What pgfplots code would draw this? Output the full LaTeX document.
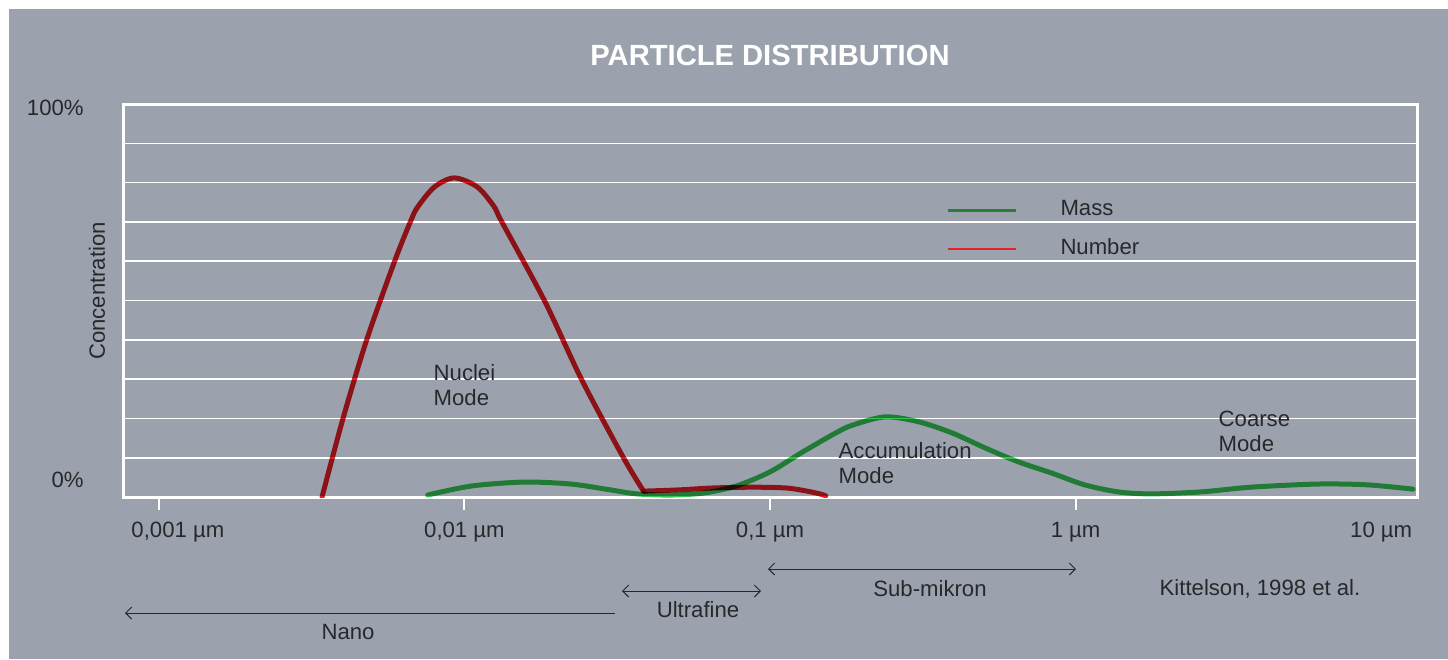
\documentclass[border=0pt]{standalone}
\usepackage{pgfplots}
\pgfplotsset{compat=1.18}
\usepackage{fontspec}
\setmainfont{Liberation Sans}
\usetikzlibrary{arrows.meta}
\definecolor{bg}{RGB}{156,162,173}
\definecolor{txt}{RGB}{40,40,44}
\definecolor{redc}{RGB}{228,30,36}
\definecolor{greenc}{RGB}{55,195,80}
\definecolor{legred}{RGB}{232,32,40}
\definecolor{leggreen}{RGB}{42,125,55}
\newcommand{\tf}{\fontsize{6.3}{7.1}\selectfont}

\pgfplotstableread{
x y
0.003420 0
0.004009 20.1
0.004797 40.2
0.005916 60.1
0.006668 70.2
0.007031 73.8
0.007980 78.9
0.009268 81.2
0.011015 78.9
0.012531 73.8
0.013213 70.2
0.018239 50.1
0.024210 29.8
0.033200 9.9
0.038580 1.5
}\numberA

\pgfplotstableread{
x y
0.038580 1.5
0.050 1.8
0.0650 2.3
0.0880 2.5
0.1128 2.3
0.1300 1.6
0.1455 0.8
0.1522 0.3
}\numberB

\pgfplotstableread{
x y
0.00758 0.5
0.01054 2.8
0.01568 3.8
0.02231 3.3
0.03012 1.8
0.03660 0.8
0.04723 0.5
0.06049 1.0
0.07749 2.8
0.1000 6.4
0.1281 11.5
0.1641 16.3
0.1864 18.3
0.2387 20.4
0.3080 19.1
0.3945 16.3
0.5054 12.5
0.6522 8.9
0.8352 6.1
1.0698 3.1
1.3806 1.3
1.7679 0.8
2.573 1.3
3.744 2.5
6.186 3.3
9.003 3.1
12.715 2.0
}\mass

\begin{document}
\begin{tikzpicture}[x=0.1mm,y=0.1mm,font=\tf,text=txt]
\fill[white] (0,0) rectangle (1448,659);
\fill[bg] (9,0) rectangle (1448,650);
\useasboundingbox (0,0) rectangle (1448,659);
\begin{axis}[
  at={(12.4mm,16.2mm)}, anchor=south west,
  scale only axis, width=129.3mm, height=39.3mm,
  xmode=log, xmin=0.000769, xmax=13.1,
  ymin=0, ymax=100,
  xtick={0.001,0.01,0.1,1},
  xticklabels={{\hspace*{3.8mm}0,001 µm},{0,01 µm},{0,1 µm},{1 µm}},
  extra x ticks={10}, extra x tick labels={10 µm},
  extra x tick style={major tick length=0pt, xticklabel style={yshift=-1.3mm}},
  xminorticks=false,
  xtick pos=left,
  tick align=outside,
  major tick length=1.3mm,
  xtick style={white, line width=0.2mm},
  ytick={0,10,...,100}, yticklabels={}, ytick style={draw=none},
  ymajorgrids, major grid style={white, line width=0.16mm},
  axis line style={white, line width=0.3mm},
  xticklabel style={font=\tf, text=txt, anchor=base, yshift=-2.7mm},
  legend style={draw=none, fill=none, at={(0.6365,0.7557)}, anchor=north west,
    inner sep=0pt, outer sep=0pt, row sep=1.8mm, column sep=4.3mm,
    nodes={inner sep=0pt, text=txt, font=\tf}},
  legend cell align=left,
  legend image code/.code={\draw[#1, line width=0.25mm] (0mm,0mm) -- (6.8mm,0mm);},
]
\addlegendimage{leggreen}
\addlegendentry{Mass}
\addlegendimage{legred}
\addlegendentry{Number}
\addplot[forget plot, greenc, line width=0.5mm, line cap=round, smooth, blend mode=multiply] table[x=x,y=y] {\mass};
\addplot[forget plot, redc, line width=0.5mm, line cap=round, line join=round, smooth, blend mode=multiply] table[x=x,y=y] {\numberA};
\addplot[forget plot, redc, line width=0.5mm, line cap=round, line join=round, smooth, blend mode=multiply] table[x=x,y=y] {\numberB};
\end{axis}
\node[white, font=\fontsize{8.3}{9}\selectfont\bfseries] at (770,604) {PARTICLE DISTRIBUTION};
\node[anchor=east] at (96,551) {100\%};
\node[anchor=east] at (96,179) {0\%};
\node[rotate=90] at (97,368) {Concentration};
\node[anchor=base west, inner sep=0pt] at (433,279) {Nuclei};
\node[anchor=base west, inner sep=0pt] at (433,254) {Mode};
\node[anchor=base west, inner sep=0pt] at (838,201) {Accumulation};
\node[anchor=base west, inner sep=0pt] at (838,176) {Mode};
\node[anchor=base west, inner sep=0pt] at (1218,233) {Coarse};
\node[anchor=base west, inner sep=0pt] at (1218,208) {Mode};
\draw[txt, line width=0.1mm, {Straight Barb[length=0.6mm,width=1.2mm]}-{Straight Barb[length=0.6mm,width=1.2mm]}] (768,90) -- (1076,90);
\node[anchor=base, inner sep=0pt] at (930,63) {Sub-mikron};
\draw[txt, line width=0.1mm, {Straight Barb[length=0.6mm,width=1.2mm]}-{Straight Barb[length=0.6mm,width=1.2mm]}] (622,68) -- (761,68);
\node[anchor=base, inner sep=0pt] at (698,42) {Ultrafine};
\draw[txt, line width=0.1mm, {Straight Barb[length=0.6mm,width=1.2mm]}-] (125,46) -- (615,46);
\node[anchor=base, inner sep=0pt] at (348,20) {Nano};
\node[anchor=base, inner sep=0pt] at (1260,64) {Kittelson, 1998 et al.};
\end{tikzpicture}
\end{document}
